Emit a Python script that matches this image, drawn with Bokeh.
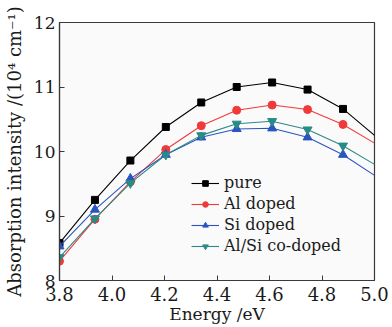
from bokeh.plotting import figure
from bokeh.models import FixedTicker, Legend, LegendItem, Range1d, NumeralTickFormatter
from bokeh.embed import file_html
from bokeh.resources import INLINE

# ---- data ----
energy = [3.80, 3.935, 4.07, 4.205, 4.34, 4.475, 4.61, 4.745, 4.88]
energy_line = energy + [5.0]

pure = [8.58, 9.25, 9.86, 10.38, 10.76, 11.00, 11.07, 10.96, 10.66]
pure_end = 10.25
al_doped = [8.30, 8.95, 9.53, 10.03, 10.40, 10.64, 10.72, 10.65, 10.42]
al_end = 10.13
si_doped = [8.53, 9.10, 9.58, 9.95, 10.22, 10.35, 10.36, 10.22, 9.95]
si_end = 9.63
alsi_doped = [8.36, 8.96, 9.51, 9.95, 10.25, 10.43, 10.47, 10.34, 10.09]
alsi_end = 9.80

series_names = ["pure", "Al doped", "Si doped", "Al/Si co-doped"]
x_ticks = [3.8, 4.0, 4.2, 4.4, 4.6, 4.8, 5.0]
y_ticks = [8, 9, 10, 11, 12]

FONT = "DejaVu Serif"

p = figure(width=392, height=327, output_backend="svg", toolbar_location=None,
           x_range=Range1d(3.8, 5.0), y_range=Range1d(8, 12),
           min_border_left=58, min_border_right=18, min_border_top=22, min_border_bottom=47)
p.background_fill_color = "#fafafa"
p.border_fill_color = "white"
p.outline_line_color = "#3a3a3a"
p.outline_line_width = 1.2
p.xgrid.visible = False
p.ygrid.visible = False

for ax in (p.xaxis[0], p.yaxis[0]):
    ax.axis_line_color = "#3a3a3a"
    ax.axis_line_width = 1.2
    ax.major_tick_in = 5
    ax.major_tick_out = 0
    ax.major_tick_line_color = "#3a3a3a"
    ax.minor_tick_line_color = None
    ax.major_label_text_font = FONT
    ax.major_label_text_color = "#1a1a1a"
    ax.axis_label_text_font = FONT
    ax.axis_label_text_font_style = "normal"
    ax.axis_label_text_color = "#1a1a1a"

p.xaxis.ticker = FixedTicker(ticks=x_ticks)
p.xaxis.formatter = NumeralTickFormatter(format="0.0")
p.xaxis.major_label_text_font_size = "18px"
p.xaxis.major_label_standoff = 6
p.xaxis.axis_label = "Energy /eV"
p.xaxis.axis_label_text_font_size = "17px"
p.xaxis.axis_label_standoff = 0

p.yaxis.ticker = FixedTicker(ticks=y_ticks)
p.yaxis.major_label_text_font_size = "17px"
p.yaxis.major_label_standoff = 4
p.yaxis.axis_label = "Absorption intensity /(10\u2074 cm\u207b\u00b9)"
p.yaxis.axis_label_text_font_size = "18px"
p.yaxis.axis_label_standoff = 6

styles = [
    (pure, pure_end, "#000000", "square", 7),
    (al_doped, al_end, "#f03a3a", "circle", 8),
    (si_doped, si_end, "#2a55c0", "triangle", 9),
    (alsi_doped, alsi_end, "#2a8a86", "inverted_triangle", 9),
]

items = []
for name, (vals, end, color, marker, size) in zip(series_names, styles):
    ln = p.line(energy_line, vals + [end], line_color=color, line_width=1.1)
    sc = p.scatter(energy, vals, marker=marker, size=size, fill_color=color, line_color=color)
    items.append(LegendItem(label=name, renderers=[ln, sc]))

legend = Legend(items=items, location=(132, 24), padding=0, margin=0, spacing=0,
                label_height=21, glyph_height=14, glyph_width=28, label_standoff=5,
                label_text_font=FONT, label_text_font_size="16px", label_text_color="#1a1a1a",
                background_fill_alpha=0, border_line_color=None)
p.add_layout(legend, "center")

open("out.html", "w").write(file_html(p, INLINE))
